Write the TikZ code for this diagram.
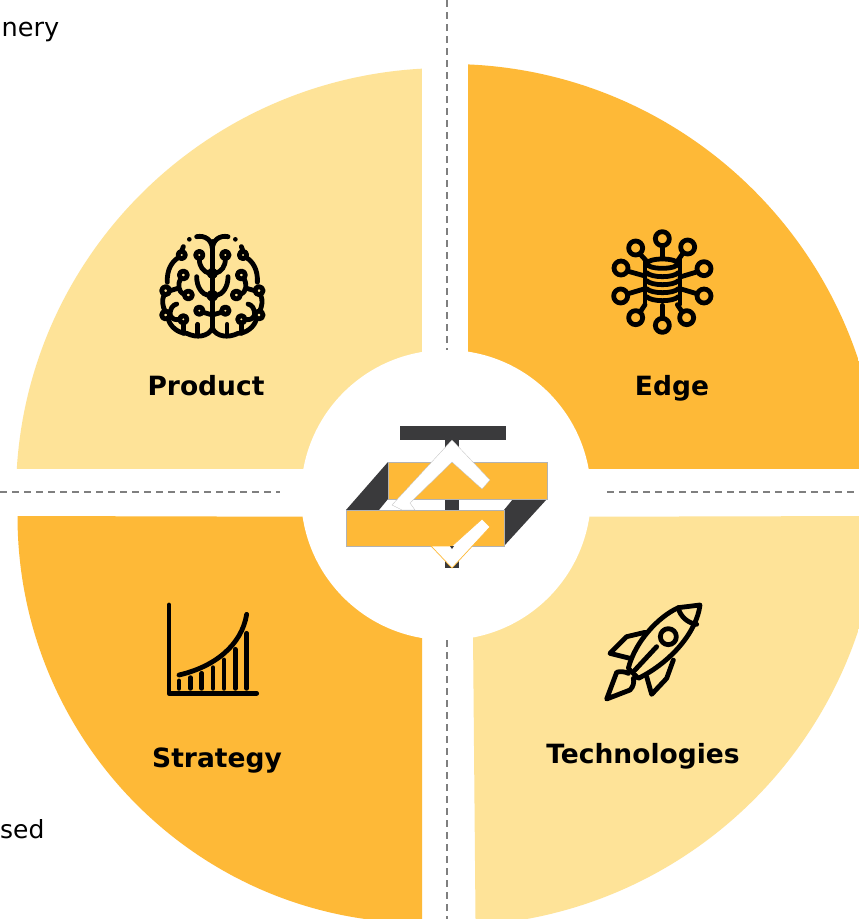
\documentclass[tikz,border=0pt]{standalone}
\usepackage{fontspec}
\setmainfont{DejaVu Sans}
\definecolor{lightseg}{HTML}{FEE398}
\definecolor{darkseg}{HTML}{FEB937}
\definecolor{logodark}{HTML}{3A3A3C}
\definecolor{dashgray}{HTML}{7F7F7F}
\newcommand{\brainhalf}{%
  \draw[iconline] (187,70) .. controls (185,45) and (165,30) .. (140,35);
  \fill (118,43) circle[radius=7];
  \draw[iconline] (187,50) -- (187,312);
  \draw[iconline] (100,65) -- (95,78);
  \draw[iconline] (95,90) circle[radius=11];
  \draw[iconline] (85,98) .. controls (65,110) and (50,135) .. (52,172);
  \draw[iconline] (47,197) circle[radius=12];
  \draw[iconline] (42,210) .. controls (35,225) and (38,245) .. (45,258);
  \draw[iconline] (47,270) circle[radius=12];
  \draw[iconline] (55,282) .. controls (60,305) and (85,325) .. (110,325) .. controls (140,340) and (175,335) .. (187,310);
  \draw[iconline] (148,90) circle[radius=11];
  \draw[iconline] (148,102) .. controls (148,125) and (160,140) .. (178,145);
  \draw[iconline] (187,145) circle[radius=9];
  \draw[iconline] (140,155) .. controls (140,185) and (155,208) .. (176,212);
  \draw[iconline] (187,212) circle[radius=10];
  \draw[iconline] (100,150) circle[radius=12];
  \draw[iconline] (60,197) -- (84,190);
  \draw[iconline] (92,160) .. controls (84,175) and (82,200) .. (103,208);
  \draw[iconline] (115,210) circle[radius=12];
  \draw[iconline] (148,257) circle[radius=11];
  \draw[iconline] (160,262) -- (187,270);
  \draw[iconline] (100,283) circle[radius=11];
  \draw[iconline] (100,295) -- (100,325);
  \draw[iconline] (143,298) -- (143,330);
  \draw[iconline] (80,237) .. controls (68,240) and (60,250) .. (60,270) .. controls (68,285) and (78,285) .. (88,283);
}
\tikzset{
  iconline/.style={black,line width=4.8pt,line cap=round,line join=round},
  seglabel/.style={font=\bfseries\fontsize{26.5}{30}\selectfont,text=black,inner sep=0pt,anchor=base},
  sidetext/.style={font=\fontsize{25}{30}\selectfont,text=black,inner sep=0pt,anchor=base west},
  guide/.style={dashgray,line width=1.6pt,dash pattern=on 7pt off 5pt},
  logoedge/.style={draw=black!30,line width=.5pt}
}
\begin{document}
\begin{tikzpicture}[x=1pt,y=-1pt]
\path[use as bounding box] (0,0) rectangle (859,919);
\clip (0,0) rectangle (859,919);
\fill[white] (0,0) rectangle (859,919);
% segments
\begin{scope}
  \clip (446,495) ellipse[x radius=430,y radius=427];
  \fill[lightseg] (0,0) rectangle (422,469);
\end{scope}
\begin{scope}
  \clip (449,495) circle[radius=431];
  \fill[darkseg] (468,0) rectangle (880,469);
  \fill[lightseg] (472,517) -- (880,516) -- (880,930) -- (475.6,930) -- cycle;
\end{scope}
\fill[darkseg] (17.5,516) .. controls (17.5,741) and (198.6,923) .. (422,923) -- (422,517) -- cycle;
\fill[white] (446,495) circle[radius=145];
% guides
\coordinate (vt) at (447,0); \coordinate (vta) at (447,350);
\coordinate (vb) at (447,640); \coordinate (vba) at (447,919);
\coordinate (hl) at (0,492); \coordinate (hla) at (280,492);
\coordinate (hr) at (607,492); \coordinate (hra) at (859,492);
\draw[guide] (vt) -- (vta);
\draw[guide] (vb) -- (vba);
\draw[guide] (hl) -- (hla);
\draw[guide] (hr) -- (hra);
% logo
\fill[logodark] (400,426) rectangle (506,440);
\fill[logodark] (445.3,440) rectangle (459.3,568);
\fill[logodark] (388,462) -- (346,510) -- (379,510) -- (388,499) -- cycle;
\fill[logodark] (504,510) -- (513,499) -- (547,499) -- (504,546) -- cycle;
\filldraw[fill=darkseg,logoedge] (388,462) rectangle (547,499);
\fill[white,draw=black!25,line width=.3pt] (452,440) -- (490,480) -- (482,489) -- (452,462) -- (410,503) -- (415,510) -- (402,510) -- (392,505) -- cycle;
\filldraw[fill=darkseg,logoedge] (346,510) rectangle (504,546);
\fill[white,draw=darkseg,line width=.7pt] (482,519) -- (490,527) -- (452,568) -- (431,546) -- (452,546) -- cycle;
\fill[logodark] (450,546) -- (454,546) -- (452,549) -- cycle;
% brain
\begin{scope}[shift={(150,225)},scale=1/3]
  \brainhalf
\end{scope}
\begin{scope}[shift={(274.7,225)},xscale=-1/3,yscale=1/3]
  \brainhalf
\end{scope}
% database
\begin{scope}[shift={(600,222)},scale=1/3]
  \foreach \cx/\cy in {187/50,107/78,263/75,63/138,312/140,62/222,312/222,107/287,260/287,187/310}
    \draw[iconline] (\cx,\cy) circle[radius=21];
  \draw[iconline] (187,72) -- (187,110);
  \draw[iconline] (122,98) -- (140,118);
  \draw[iconline] (248,95) -- (232,118);
  \draw[iconline] (85,148) -- (135,162);
  \draw[iconline] (290,150) -- (240,165);
  \draw[iconline] (85,215) -- (135,200);
  \draw[iconline] (290,215) -- (240,200);
  \draw[iconline] (122,268) -- (135,248);
  \draw[iconline] (245,268) -- (232,248);
  \draw[iconline] (187,250) -- (187,288);
  \draw[iconline] (135,112) -- (135,246);
  \draw[iconline] (240,112) -- (240,246);
  \draw[iconline] (187,125) ellipse[x radius=47,y radius=14];
  \foreach \yy in {152,176,200,224}
    \draw[iconline] (140,\yy) .. controls (155,\yy+16) and (220,\yy+16) .. (235,\yy);
\end{scope}
% chart
\begin{scope}[shift={(155,595)},scale=1/3]
  \draw[iconline] (42,30) -- (42,295) -- (305,295);
  \draw[iconline] (72,240) .. controls (180,215) and (260,150) .. (275,58);
  \foreach \bx/\by in {72/258,106/248,140/235,174/218,207/195,241/163,275/115}
    \draw[iconline] (\bx,\by) -- (\bx,280);
\end{scope}
% rocket
\begin{scope}[shift={(595,595)},scale=1/3]
  \draw[iconline] (250,38) -- (315,30) .. controls (305,110) and (230,200) .. (130,250) -- (100,220) .. controls (120,140) and (190,65) .. (250,38);
  \draw[iconline] (250,38) .. controls (255,65) and (280,85) .. (305,88);
  \draw[iconline] (220,125) circle[radius=24];
  \draw[iconline] (185,155) -- (120,225);
  \draw[iconline] (150,112) -- (95,125) -- (45,175) -- (105,190);
  \draw[iconline] (235,195) -- (215,250) -- (170,298) -- (155,245);
  \draw[iconline] (100,235) .. controls (90,230) and (75,228) .. (65,232) -- (35,312) -- (105,285) .. controls (115,275) and (118,262) .. (115,250);
\end{scope}
% labels
\node[seglabel] (product) at (206,395) {Product};
\node[seglabel] (edge) at (672,395) {Edge};
\node[seglabel] (strategy) at (217,767) {Strategy};
\node[seglabel] (technologies) at (643,763) {Technologies};
\node[sidetext,font=\fontsize{25.6}{30}\selectfont] (nery) at (1.5,36) {nery};
\node[sidetext] (sed) at (0,838) {sed};
\node[sidetext] (cut) at (-1,933) {e};
\end{tikzpicture}
\end{document}
